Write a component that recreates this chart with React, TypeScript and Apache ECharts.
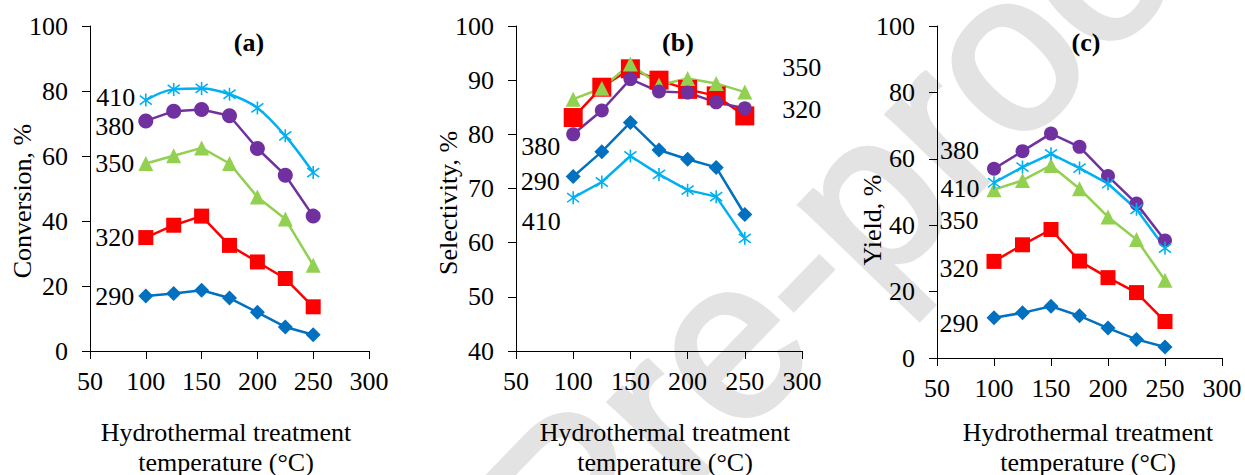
import React, { useEffect, useRef } from "react";
import * as echarts from "echarts";

const temperatures = [100, 125, 150, 175, 200, 225, 250];

const conversion290 = [16.9, 17.7, 18.7, 16.3, 11.9, 7.4, 5.0];
const conversion320 = [34.9, 38.7, 41.5, 32.5, 27.4, 22.3, 13.6];
const conversion350 = [57.7, 60.1, 62.5, 57.7, 47.4, 40.6, 26.4];
const conversion380 = [70.8, 73.8, 74.3, 72.4, 62.3, 54.1, 41.5];
const conversion410 = [77.2, 80.5, 80.8, 79.0, 74.8, 66.2, 54.9];

const selectivity290 = [72.2, 76.8, 82.2, 77.1, 75.4, 73.9, 65.2];
const selectivity320 = [83.1, 88.7, 92.1, 90.0, 88.3, 87.1, 83.4];
const selectivity350 = [86.5, 88.5, 93.0, 89.1, 90.3, 89.4, 87.8];
const selectivity380 = [80.0, 84.4, 90.2, 87.9, 87.7, 85.9, 84.8];
const selectivity410 = [68.3, 71.2, 76.0, 72.6, 69.7, 68.5, 60.8];

const yield290 = [12.1, 13.6, 15.6, 12.7, 9.0, 5.6, 3.3];
const yield320 = [29.1, 34.1, 38.7, 29.2, 24.2, 19.7, 11.0];
const yield350 = [50.7, 53.5, 58.0, 51.0, 42.5, 35.7, 23.4];
const yield380 = [57.0, 62.3, 67.6, 63.6, 54.8, 46.5, 35.4];
const yield410 = [52.8, 57.5, 61.5, 57.2, 52.5, 44.8, 33.1];

const panelTitles = ["(a)", "(b)", "(c)"];
const yTitles = ["Conversion, %", "Selectivity, %", "Yield, %"];
const xTitle = "Hydrothermal treatment\ntemperature (°C)";
const watermarkText = "Pre-proof";

const FONT = "'Liberation Serif', 'Times New Roman', serif";
const FS = 26;
const COLORS: Record<string, string> = {
  "290": "#0070C0",
  "320": "#FF0000",
  "350": "#92D050",
  "380": "#7030A0",
  "410": "#00B0F0",
};
const STAR =
  "path://M8.8,0 L11.2,0 L11.2,20 L8.8,20 Z M1.737,2.053 L19.737,16.053 L18.263,17.947 L0.263,3.947 Z M0.263,16.053 L18.263,2.053 L19.737,3.947 L1.737,17.947 Z";
const SYMBOLS: Record<string, string> = {
  "290": "diamond",
  "320": "rect",
  "350": "triangle",
  "380": "circle",
  "410": STAR,
};

type LabelCfg = { idx: number; pos: "left" | "right"; dist: number; dy: number };

function makeSeries(
  panel: number,
  name: string,
  values: number[],
  size: number,
  lab: LabelCfg,
  smooth = false
) {
  const color = COLORS[name];
  return {
    type: "line",
    name,
    xAxisIndex: panel,
    yAxisIndex: panel,
    smooth: smooth ? 0.35 : false,
    symbol: SYMBOLS[name],
    symbolSize: size,
    showAllSymbol: true,
    lineStyle: { color, width: 2.5 },
    itemStyle: { color, borderWidth: 0 },
    data: temperatures.map((t, i) =>
      i === lab.idx
        ? {
            value: [t, values[i]],
            label: {
              show: true,
              formatter: name,
              position: lab.pos,
              distance: lab.dist,
              offset: [0, lab.dy],
              color: "#000",
              fontFamily: FONT,
              fontSize: FS,
            },
          }
        : { value: [t, values[i]] }
    ),
  };
}

const grids = [
  { left: 90, top: 26, width: 279, height: 325 },
  { left: 516, top: 26, width: 286, height: 325 },
  { left: 937, top: 26, width: 285, height: 332 },
];
const yRanges = [
  { min: 0, max: 100, interval: 20 },
  { min: 40, max: 100, interval: 10 },
  { min: 0, max: 100, interval: 20 },
];

export default function App() {
  const ref = useRef<HTMLDivElement>(null);
  useEffect(() => {
    if (!ref.current) return;
    const chart = echarts.init(ref.current, undefined, { renderer: "svg" });
    const axisLine = { show: true, lineStyle: { color: "#000", width: 1 } };
    const axisTick = { show: true, inside: false, length: 8, lineStyle: { color: "#000", width: 1 } };
    const labelStyle = { color: "#000", fontFamily: FONT, fontSize: FS };

    const series = [
      makeSeries(0, "290", conversion290, 15, { idx: 0, pos: "left", dist: 4, dy: 0 }),
      makeSeries(0, "320", conversion320, 15, { idx: 0, pos: "left", dist: 4, dy: 0 }),
      makeSeries(0, "350", conversion350, 15, { idx: 0, pos: "left", dist: 4, dy: 0 }),
      makeSeries(0, "380", conversion380, 15, { idx: 0, pos: "left", dist: 4, dy: 6 }),
      makeSeries(0, "410", conversion410, 13, { idx: 0, pos: "left", dist: 4, dy: -3 }, true),
      makeSeries(1, "290", selectivity290, 15, { idx: 0, pos: "left", dist: 6, dy: 5 }),
      makeSeries(1, "320", selectivity320, 19, { idx: 6, pos: "right", dist: 28, dy: -6 }),
      makeSeries(1, "350", selectivity350, 15, { idx: 6, pos: "right", dist: 30, dy: -25 }),
      makeSeries(1, "380", selectivity380, 14, { idx: 0, pos: "left", dist: 6, dy: 12 }),
      makeSeries(1, "410", selectivity410, 13, { idx: 0, pos: "left", dist: 6, dy: 24 }),
      makeSeries(2, "290", yield290, 15, { idx: 0, pos: "left", dist: 8, dy: 6 }),
      makeSeries(2, "320", yield320, 15, { idx: 0, pos: "left", dist: 8, dy: 7 }),
      makeSeries(2, "350", yield350, 15, { idx: 0, pos: "left", dist: 8, dy: 31 }),
      makeSeries(2, "380", yield380, 14, { idx: 0, pos: "left", dist: 8, dy: -18 }),
      makeSeries(2, "410", yield410, 13, { idx: 0, pos: "left", dist: 8, dy: 6 }),
    ];

    const graphic: any[] = [
      {
        type: "text",
        x: 850,
        y: 212,
        rotation: (46 * Math.PI) / 180,
        z: -100,
        silent: true,
        style: {
          text: watermarkText,
          fontSize: 225,
          fontFamily: "'Liberation Sans', Arial, sans-serif",
          fill: "#e3e3e3",
          stroke: "#e3e3e3",
          lineWidth: 5,
          align: "center",
          verticalAlign: "middle",
        },
      },
    ];
    const titlePos = [
      [249, 42],
      [678, 42],
      [1086, 42],
    ];
    const yTitlePos = [
      [22, 201],
      [448, 203],
      [872, 220],
    ];
    const xTitleX = [226, 665, 1088];
    for (let p = 0; p < 3; p++) {
      graphic.push({
        type: "text",
        x: titlePos[p][0],
        y: titlePos[p][1],
        style: {
          text: panelTitles[p],
          fontFamily: FONT,
          fontSize: FS,
          fontWeight: "bold",
          fill: "#000",
          align: "center",
          verticalAlign: "middle",
        },
      });
      graphic.push({
        type: "text",
        x: yTitlePos[p][0],
        y: yTitlePos[p][1],
        rotation: Math.PI / 2,
        style: {
          text: yTitles[p],
          fontFamily: FONT,
          fontSize: FS,
          fill: "#000",
          align: "center",
          verticalAlign: "middle",
        },
      });
      graphic.push({
        type: "text",
        x: xTitleX[p],
        y: 447,
        style: {
          text: xTitle,
          fontFamily: FONT,
          fontSize: FS,
          lineHeight: 30,
          fill: "#000",
          align: "center",
          verticalAlign: "middle",
        },
      });
    }

    chart.setOption({
      animation: false,
      backgroundColor: "#fff",
      grid: grids.map((g) => ({ ...g, containLabel: false })),
      xAxis: grids.map((_, i) => ({
        type: "value",
        gridIndex: i,
        min: 50,
        max: 300,
        interval: 50,
        axisLine,
        axisTick,
        splitLine: { show: false },
        axisLabel: { ...labelStyle, margin: 17 },
      })),
      yAxis: yRanges.map((r, i) => ({
        type: "value",
        gridIndex: i,
        min: r.min,
        max: r.max,
        interval: r.interval,
        axisLine,
        axisTick,
        splitLine: { show: false },
        axisLabel: { ...labelStyle, margin: 22 },
      })),
      graphic,
      series,
    });
    return () => chart.dispose();
  }, []);
  return (
    <div
      ref={ref}
      style={{ position: "absolute", left: 0, top: 0, width: 1245, height: 475 }}
    />
  );
}
